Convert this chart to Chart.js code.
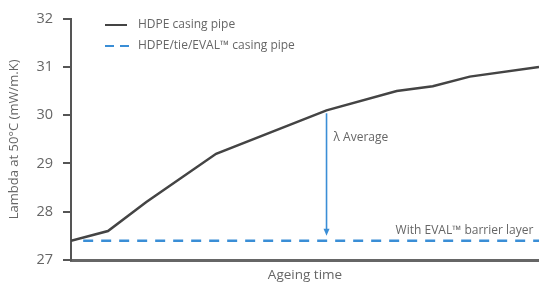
<!DOCTYPE html>
<html>
<head>
<meta charset="utf-8">
<script src="https://cdn.jsdelivr.net/npm/chart.js@4/dist/chart.umd.min.js"></script>
<style>
  html, body { margin: 0; padding: 0; background: #fff; }
  #wrap { width: 539px; height: 288px; }
</style>
</head>
<body>
<div id="wrap"><canvas id="c"></canvas></div>
<script>
// Data
const ageingTime = [0, 7.9, 16.1, 31.0, 54.6, 69.6, 77.3, 85.2, 100];
const hdpeLambda = [27.4, 27.6, 28.2, 29.2, 30.1, 30.5, 30.6, 30.8, 31.0];
const evalTime = [2.6, 100];
const evalLambda = [27.4, 27.4];
const yTicks = [27, 28, 29, 30, 31, 32];
const seriesNames = ['HDPE casing pipe', 'HDPE/tie/EVAL\u2122 casing pipe'];
const arrowAt = { x: 54.6, from: 30.04, to: 27.5 };
const arrowLabel = '\u03bb Average';
const barrierLabel = 'With EVAL\u2122 barrier layer';
const barrierLabelPos = { x: 98.8, y: 27.6 };

const FONT = '"Open Sans", "Noto Sans", sans-serif';
const GREY = '#666';
const DARK = '#444';
const BLUE = '#3a8ed6';

const annotations = {
  id: 'annotations',
  afterDatasetsDraw(chart) {
    const { ctx, scales: { x, y } } = chart;
    ctx.save();
    // arrow
    const ax = x.getPixelForValue(arrowAt.x);
    const y1 = y.getPixelForValue(arrowAt.from);
    const y2 = y.getPixelForValue(arrowAt.to);
    ctx.strokeStyle = BLUE;
    ctx.fillStyle = BLUE;
    ctx.lineWidth = 1.6;
    ctx.beginPath();
    ctx.moveTo(ax, y1);
    ctx.lineTo(ax, y2 - 5);
    ctx.stroke();
    ctx.beginPath();
    ctx.moveTo(ax - 3, y2 - 7);
    ctx.lineTo(ax + 3, y2 - 7);
    ctx.lineTo(ax, y2);
    ctx.closePath();
    ctx.fill();
    // labels
    ctx.fillStyle = GREY;
    ctx.font = '12px ' + FONT;
    ctx.textBaseline = 'middle';
    ctx.textAlign = 'left';
    ctx.fillText(arrowLabel, ax + 7, y.getPixelForValue(29.53));
    ctx.textAlign = 'right';
    ctx.fillText(barrierLabel, x.getPixelForValue(barrierLabelPos.x), y.getPixelForValue(barrierLabelPos.y));
    // legend
    ctx.textAlign = 'left';
    ctx.font = '12px ' + FONT;
    const lx = 105, ly1 = 25, ly2 = 46;
    ctx.strokeStyle = DARK;
    ctx.lineWidth = 2;
    ctx.beginPath(); ctx.moveTo(lx, ly1); ctx.lineTo(lx + 22, ly1); ctx.stroke();
    ctx.strokeStyle = BLUE;
    ctx.setLineDash([9, 6]);
    ctx.beginPath(); ctx.moveTo(lx, ly2); ctx.lineTo(lx + 24, ly2); ctx.stroke();
    ctx.setLineDash([]);
    ctx.fillStyle = GREY;
    ctx.fillText(seriesNames[0], 138, ly1);
    ctx.fillText(seriesNames[1], 138, ly2);
    ctx.restore();
  }
};

new Chart(document.getElementById('c'), {
  type: 'line',
  data: {
    datasets: [
      {
        label: seriesNames[0],
        data: ageingTime.map((t, i) => ({ x: t, y: hdpeLambda[i] })),
        borderColor: DARK,
        borderWidth: 2.5,
        pointRadius: 0,
        tension: 0,
        fill: false
      },
      {
        label: seriesNames[1],
        data: evalTime.map((t, i) => ({ x: t, y: evalLambda[i] })),
        borderColor: BLUE,
        borderWidth: 2.5,
        borderDash: [10, 8],
        pointRadius: 0,
        fill: false
      }
    ]
  },
  options: {
    responsive: true,
    maintainAspectRatio: false,
    animation: false,
    layout: { padding: { top: 16, right: 0, left: 0, bottom: 0 } },
    plugins: { legend: { display: false }, tooltip: { enabled: false } },
    scales: {
      x: {
        type: 'linear',
        min: 0,
        max: 100,
        ticks: { display: false },
        grid: { display: false, drawTicks: false },
        border: { display: true, color: '#666', width: 3 },
        title: {
          display: true,
          text: 'Ageing time',
          color: GREY,
          font: { family: FONT, size: 13.5 },
          padding: { top: 0, bottom: 5 }
        },
        afterFit(s) { s.height = 28; }
      },
      y: {
        min: 27,
        max: 32,
        afterBuildTicks(s) { s.ticks = yTicks.map(v => ({ value: v })); },
        ticks: {
          color: GREY,
          font: { family: FONT, size: 14.5 },
          padding: 10
        },
        grid: {
          drawOnChartArea: false,
          drawTicks: true,
          tickLength: 8,
          color: '#555',
          lineWidth: 2
        },
        border: { display: true, color: '#555', width: 2 },
        title: {
          display: true,
          text: 'Lambda at 50\u00b0C (mW/m.K)',
          color: GREY,
          font: { family: FONT, size: 13 },
          padding: { top: 6, bottom: 0 }
        },
        afterFit(s) { s.width = 71; }
      }
    }
  },
  plugins: [annotations]
});
</script>
</body>
</html>
